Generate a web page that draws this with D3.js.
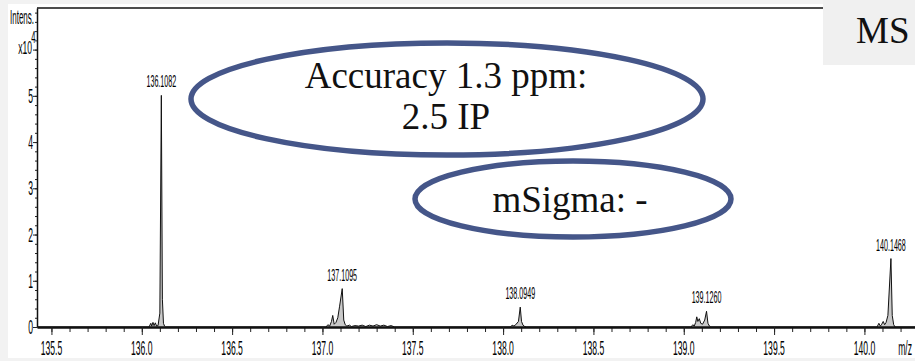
<!DOCTYPE html>
<html>
<head>
<meta charset="utf-8">
<script src="https://cdn.jsdelivr.net/npm/d3@7"></script>
<style>
  html, body { margin: 0; padding: 0; background: #f2f2f2; }
  svg { display: block; }
</style>
</head>
<body>
<div id="chart"></div>
<script>
// spectrum trace, m/z vs intensity (x10^4)
const mz = [
  135.42, 136.04, 136.05, 136.055, 136.062, 136.068, 136.075, 136.082, 136.09,
  136.1, 136.1082, 136.114, 136.12, 136.126, 136.132,
  137.02, 137.03, 137.04, 137.05, 137.057, 137.065, 137.075, 137.085, 137.095,
  137.1095, 137.118, 137.126, 137.135, 137.15, 137.16, 137.18, 137.2, 137.22,
  137.24, 137.26, 137.28, 137.3, 137.32, 137.34, 137.36, 137.38, 137.4,
  138.04, 138.05, 138.06, 138.07, 138.085, 138.0949, 138.102, 138.11, 138.12, 138.13,
  139.04, 139.05, 139.058, 139.066, 139.072, 139.078, 139.086, 139.094, 139.104,
  139.116, 139.126, 139.134, 139.142, 139.15,
  140.07, 140.08, 140.088, 140.096, 140.104, 140.112, 140.12, 140.13, 140.1468,
  140.154, 140.162, 140.17, 140.28
];
const intensity = [
  0, 0, 0.08, 0.02, 0.1, 0.03, 0.09, 0.02, 0.03,
  0.3, 5.01, 0.6, 0.08, 0.02, 0,
  0, 0.05, 0.02, 0.12, 0.25, 0.06, 0.1, 0.2, 0.45,
  0.83, 0.15, 0.05, 0.02, 0.04, 0.01, 0.03, 0.02, 0.04,
  0.01, 0.04, 0.02, 0.05, 0.02, 0.04, 0.01, 0.03, 0,
  0, 0.04, 0.02, 0.05, 0.12, 0.43, 0.12, 0.04, 0.01, 0,
  0, 0.05, 0.02, 0.1, 0.22, 0.12, 0.18, 0.08, 0.06,
  0.15, 0.34, 0.08, 0.02, 0,
  0, 0.08, 0.02, 0.06, 0.12, 0.05, 0.1, 0.25, 1.48,
  0.25, 0.05, 0, 0
];

const peakMz = [136.1082, 137.1095, 138.0949, 139.1260, 140.1468];
const peakIntensity = [5.01, 0.83, 0.43, 0.34, 1.48];
const peakLabels = ["136.1082", "137.1095", "138.0949", "139.1260", "140.1468"];

const xTicks = [135.5, 136.0, 136.5, 137.0, 137.5, 138.0, 138.5, 139.0, 139.5, 140.0];
const xTickLabels = ["135.5", "136.0", "136.5", "137.0", "137.5", "138.0", "138.5", "139.0", "139.5", "140.0"];
const yTicks = [0, 1, 2, 3, 4, 5];
const yTickLabels = ["0", "1", "2", "3", "4", "5"];

const noteLines = ["Accuracy 1.3 ppm:", "2.5 IP"];
const sigmaNote = "mSigma: -";
const cornerNote = "MS";

const W = 915, H = 361;
const svg = d3.select("#chart").append("svg")
  .attr("width", W)
  .attr("height", H);

// slide background + white panel
svg.append("rect").attr("width", W).attr("height", H).attr("fill", "#f2f2f2");
svg.append("rect")
  .attr("x", 8).attr("y", 4)
  .attr("width", W - 8).attr("height", 354)
  .attr("fill", "#ffffff");

const x = d3.scaleLinear().domain([135.42, 140.28]).range([37, 915]);
const y = d3.scaleLinear().domain([0, 6.9]).range([327, 8]);

// squashed sans labels like the instrument printout
const narrow = (sel, px, py, text, size, sx, anchor) => {
  sel.append("g")
    .attr("transform", `translate(${px},${py}) scale(${sx},1)`)
    .append("text")
    .attr("font-family", "'Liberation Sans', Arial, sans-serif")
    .attr("font-size", size)
    .attr("text-anchor", anchor)
    .attr("fill", "#000")
    .text(text);
};

// spectrum
const area = d3.area()
  .x((d, i) => x(mz[i]))
  .y0(y(0))
  .y1((d) => y(d));
const line = d3.line()
  .x((d, i) => x(mz[i]))
  .y((d) => y(d));

svg.append("path")
  .datum(intensity)
  .attr("d", area)
  .attr("fill", "#c9c9c9");
svg.append("path")
  .datum(intensity)
  .attr("d", line)
  .attr("fill", "none")
  .attr("stroke", "#111")
  .attr("stroke-width", 1);

// x axis: minor then major ticks
const xMinor = d3.range(135.5, 140.3, 0.1).map((v) => +v.toFixed(1));
svg.append("g")
  .attr("transform", `translate(0,${y(0)})`)
  .call(d3.axisBottom(x).tickValues(xMinor).tickSize(5).tickSizeOuter(0).tickFormat(""))
  .call((g) => g.select(".domain").remove())
  .call((g) => g.selectAll("line").attr("stroke", "#222").attr("stroke-width", 1));
svg.append("g")
  .attr("transform", `translate(0,${y(0)})`)
  .call(d3.axisBottom(x).tickValues(xTicks).tickSize(8).tickSizeOuter(0).tickFormat(""))
  .call((g) => g.select(".domain").attr("stroke", "#111").attr("stroke-width", 2.5))
  .call((g) => g.selectAll("line").attr("stroke", "#222").attr("stroke-width", 1));

xTicks.forEach((v, i) => narrow(svg, x(v), 355, xTickLabels[i], 20, 0.43, "middle"));
narrow(svg, 912, 355, "m/z", 20, 0.43, "end");

// y axis
const yMinor = d3.range(0, 6.9, 0.2).map((v) => +v.toFixed(1));
svg.append("g")
  .attr("transform", `translate(${x.range()[0]},0)`)
  .call(d3.axisLeft(y).tickValues(yMinor).tickSize(2).tickSizeOuter(0).tickFormat(""))
  .call((g) => g.select(".domain").remove())
  .call((g) => g.selectAll("line").attr("stroke", "#222").attr("stroke-width", 1));
svg.append("g")
  .attr("transform", `translate(${x.range()[0]},0)`)
  .call(d3.axisLeft(y).tickValues(yTicks.concat([6])).tickSize(4).tickSizeOuter(0).tickFormat(""))
  .call((g) => g.select(".domain").attr("stroke", "#111").attr("stroke-width", 1.5))
  .call((g) => g.selectAll("line").attr("stroke", "#222").attr("stroke-width", 1));

yTicks.forEach((v, i) => narrow(svg, 33, y(v) + 7, yTickLabels[i], 20, 0.43, "end"));
narrow(svg, 34, 24, "Intens.", 20, 0.4, "end");
narrow(svg, 32, 54, "x10", 19, 0.45, "end");
narrow(svg, 35.5, 43, "4", 17, 0.45, "end");

// top frame
svg.append("line")
  .attr("x1", 37).attr("x2", 823)
  .attr("y1", 8).attr("y2", 8)
  .attr("stroke", "#111").attr("stroke-width", 1.5);

// peak labels
peakMz.forEach((v, i) => narrow(svg, x(v), y(peakIntensity[i]) - 8, peakLabels[i], 17, 0.42, "middle"));

// callout ellipses
const serif = "'Liberation Serif', 'Times New Roman', serif";
svg.append("ellipse")
  .attr("cx", 447).attr("cy", 99)
  .attr("rx", 256).attr("ry", 56)
  .attr("fill", "none")
  .attr("stroke", "#455689").attr("stroke-width", 5.5);
svg.append("ellipse")
  .attr("cx", 573).attr("cy", 199)
  .attr("rx", 158).attr("ry", 38)
  .attr("fill", "none")
  .attr("stroke", "#455689").attr("stroke-width", 5.5);

svg.selectAll(".note")
  .data(noteLines)
  .enter()
  .append("text")
  .attr("class", "note")
  .attr("x", 446)
  .attr("y", (d, i) => 88 + i * 41)
  .attr("text-anchor", "middle")
  .attr("font-family", serif)
  .attr("font-size", 37)
  .attr("fill", "#111")
  .text((d) => d);

svg.append("text")
  .attr("x", 570).attr("y", 212)
  .attr("text-anchor", "middle")
  .attr("font-family", serif)
  .attr("font-size", 37)
  .attr("fill", "#111")
  .text(sigmaNote);

// corner box
svg.append("rect")
  .attr("x", 823).attr("y", 0)
  .attr("width", W - 823).attr("height", 65)
  .attr("fill", "#f0f0f0");
svg.append("text")
  .attr("x", 856).attr("y", 43)
  .attr("font-family", serif)
  .attr("font-size", 37)
  .attr("fill", "#111")
  .text(cornerNote);
</script>
</body>
</html>
